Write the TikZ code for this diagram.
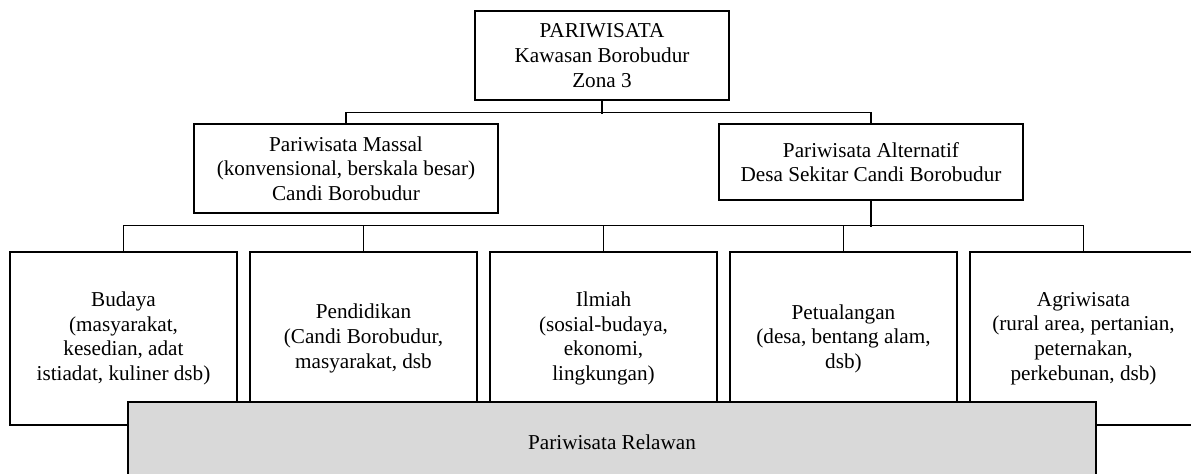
\documentclass[tikz,border=0pt]{standalone}
\usepackage{fontspec}
\setmainfont{Liberation Serif}
\definecolor{relawangray}{RGB}{217,217,217}

\begin{document}
\begin{tikzpicture}[x=0.5pt, y=-0.5pt,
    box/.style={draw, line width=0.7pt, align=center, inner sep=0pt,
      font=\fontsize{10.6}{12.3}\selectfont},
    link/.style={line width=0.75pt}]
  \useasboundingbox (0,0) rectangle (1191,473);
  % top
  \node[box, minimum width=127pt, minimum height=44.5pt] (top) at (602,55.5)
    {PARIWISATA\\Kawasan Borobudur\\Zona 3};
  % second level
  \node[box, minimum width=152pt, minimum height=44.5pt] (massal) at (346,168.5)
    {Pariwisata Massal\\(konvensional, berskala besar)\\Candi Borobudur};
  \node[box, minimum width=152pt, minimum height=38pt] (alternatif) at (871,162)
    {Pariwisata Alternatif\\Desa Sekitar Candi Borobudur};
  % third level
  \node[box, minimum width=113.5pt, minimum height=86.5pt] (budaya) at (123.5,338.5)
    {Budaya\\(masyarakat,\\kesedian, adat\\istiadat, kuliner dsb)};
  \node[box, minimum width=113.5pt, minimum height=86.5pt] (pendidikan) at (363.5,338.5)
    {Pendidikan\\(Candi Borobudur,\\masyarakat, dsb};
  \node[box, minimum width=113.5pt, minimum height=86.5pt] (ilmiah) at (603.5,338.5)
    {Ilmiah\\(sosial-budaya,\\ekonomi,\\lingkungan)};
  \node[box, minimum width=113.5pt, minimum height=86.5pt] (petualangan) at (843.5,338.5)
    {Petualangan\\(desa, bentang alam,\\dsb)};
  \node[box, minimum width=113.5pt, minimum height=86.5pt] (agriwisata) at (1083.5,338.5)
    {Agriwisata\\(rural area, pertanian,\\peternakan,\\perkebunan, dsb)};
  % relawan bar over the bottom row
  \node[box, fill=relawangray, minimum width=484pt, minimum height=40pt] (relawan) at (612,442)
    {Pariwisata Relawan};
  % connectors
  \draw[link] (top.south) -- ++(0,13);
  \draw[link] (massal.north) -- ++(0,-11) -| (alternatif.north);
  \draw[link] (alternatif.south) -- ++(0,26);
  \draw[link] (budaya.north) -- ++(0,-26) -| (agriwisata.north);
  \foreach \n in {pendidikan, ilmiah, petualangan}
    \draw[link] (\n.north) -- ++(0,-26);
\end{tikzpicture}
\end{document}
